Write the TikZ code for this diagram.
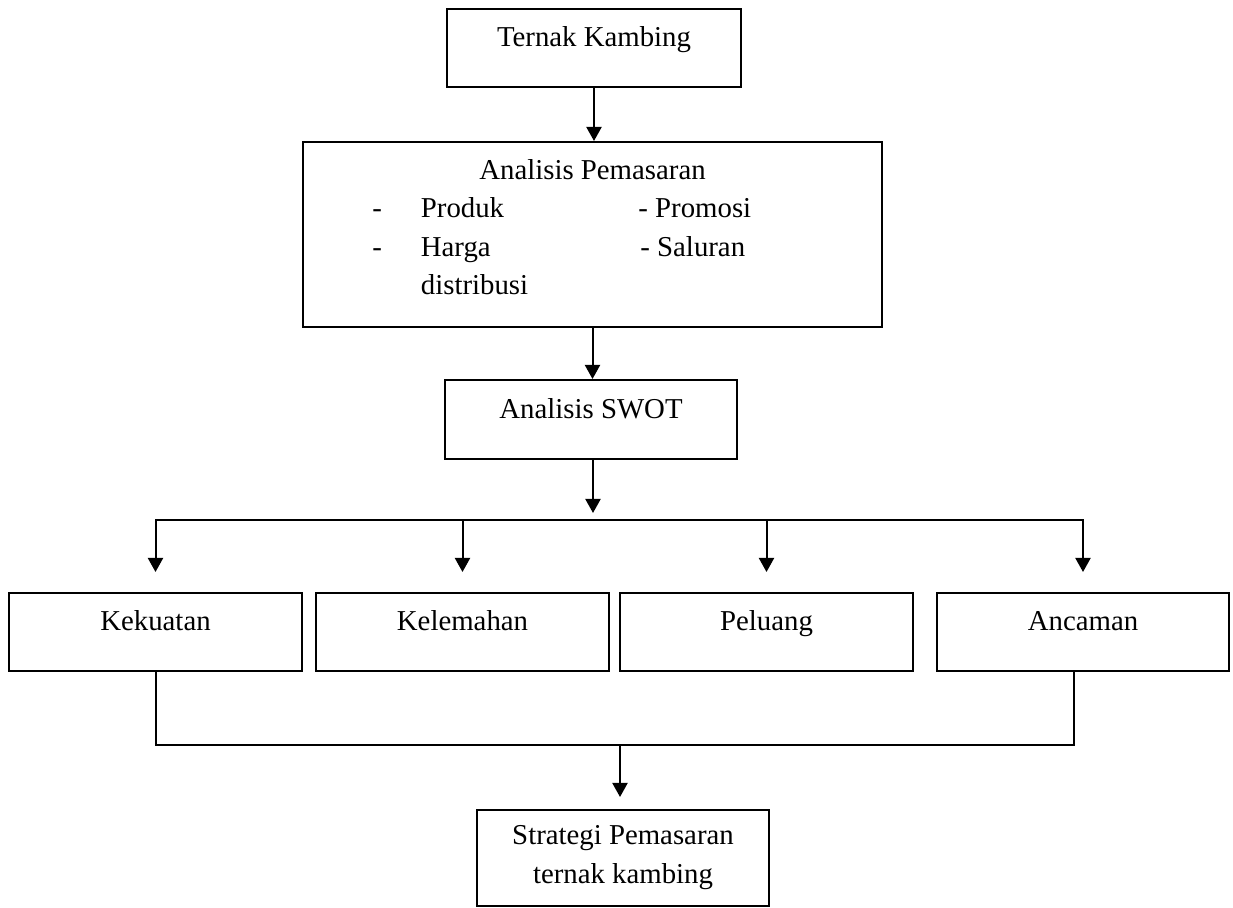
\documentclass[tikz,border=0pt]{standalone}
\usepackage{fontspec}
\setmainfont{Liberation Serif}
\usetikzlibrary{arrows.meta}

\begin{document}
\begin{tikzpicture}[x=0.5pt,y=-0.5pt,
  font=\fontsize{14.4pt}{19.5pt}\selectfont,
  box/.style={draw,line width=1pt,inner sep=0pt},
  single/.style={box,text height=10pt,text depth=11pt},
  item/.style={anchor=base west,inner sep=0pt},
  arr/.style={line width=1pt,-{Triangle[length=7pt,width=7.5pt]}}]
\useasboundingbox (0,0) rectangle (1233,908);
\node[single,minimum width=147pt,minimum height=39pt] (ternak) at (594,48) {Ternak Kambing};
\node[box,minimum width=289.5pt,minimum height=92.5pt,text height=10pt,text depth=64.5pt] (pasar) at (592.5,234.5) {Analisis Pemasaran};
\node[item] (dash1) at (372,218) {-};
\node[item] (produk) at (420.5,218) {Produk};
\node[item] (promosi) at (638,218) {- Promosi};
\node[item] (dash2) at (372,257) {-};
\node[item] (harga) at (420.5,257) {Harga};
\node[item] (saluran) at (640,257) {- Saluran};
\node[item] (distribusi) at (420.5,295) {distribusi};
\node[single,minimum width=146pt,minimum height=39.5pt] (swot) at (591,419.5) {Analisis SWOT};
\node[single,minimum width=146.5pt,minimum height=39pt] (kuat) at (155.5,632) {Kekuatan};
\node[single,minimum width=146.5pt,minimum height=39pt] (lemah) at (462.5,632) {Kelemahan};
\node[single,minimum width=146.5pt,minimum height=39pt] (peluang) at (766.5,632) {Peluang};
\node[single,minimum width=146pt,minimum height=39pt] (ancam) at (1083,632) {Ancaman};
\node[box,align=center,minimum width=146pt,minimum height=48pt] (strat) at (623,858) {Strategi Pemasaran\\ternak kambing};
\coordinate (split) at (593,520);
\coordinate (merge) at (620,745);
\coordinate (join) at (1074,745);
\draw[arr] (ternak.south) -- (ternak.south |- pasar.north);
\draw[arr] (pasar.south) -- (pasar.south |- swot.north);
\draw[arr,shorten >=3.5pt] (split |- swot.south) -- (split);
\foreach \b in {kuat,lemah,peluang,ancam}
  \draw[arr,shorten >=10pt] (split) -| (\b);
\draw[line width=1pt] (kuat.south) |- (join) -- (join |- ancam.south);
\draw[arr,shorten >=6pt] (merge) -- (merge |- strat.north);
\end{tikzpicture}
\end{document}
